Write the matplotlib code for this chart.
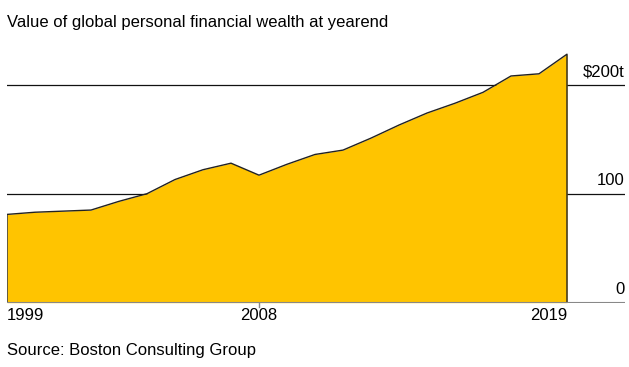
import matplotlib.pyplot as plt

years = list(range(1999, 2020))
wealth = [81, 83, 84, 85, 93, 100, 113, 122, 128, 117, 127, 136, 140,
          151, 163, 174, 183, 193, 208, 210, 228]
grid_values = [100, 200]
grid_labels = ["100", "$200t"]
x_ticks = [1999, 2008, 2019]

plt.rcParams['font.family'] = ['Liberation Sans', 'DejaVu Sans']

W, H = 629, 367
fig = plt.figure(figsize=(W / 100, H / 100), dpi=100)
# axes from x=7 to 625 px, y from 302.7 (value 0) to 44 px
ax = fig.add_axes([7 / W, (H - 302.7) / H, 618 / W, (302.7 - 44) / H])
ax.set_xlim(1999, 1999 + 618 / 28)
ax.set_ylim(0, (302.7 - 44) / 1.09)
ax.axis('off')

yellow = '#FFC400'
ax.fill_between(years, 0, wealth, color=yellow, lw=0, zorder=2)
ax.plot([years[0]] + years + [years[-1]], [0] + wealth + [0],
        color='#222222', lw=1, zorder=3)

for v, lab in zip(grid_values, grid_labels):
    ax.axhline(v, color='#111111', lw=0.9, zorder=1)
    ax.text(1, v + 5, lab, transform=ax.get_yaxis_transform(),
            ha='right', va='bottom', fontsize=12)
ax.axhline(0, color='#888888', lw=1.5, zorder=4)
ax.text(1, 5, "0", transform=ax.get_yaxis_transform(),
        ha='right', va='bottom', fontsize=12)

# tick at 2008
ax.plot([2008, 2008], [0, -4], color='#888888', lw=1, clip_on=False)
for yr, ha in zip(x_ticks, ['left', 'center', 'right']):
    ax.text(yr, -5, str(yr), ha=ha, va='top', fontsize=12)

fig.text(7 / W, 1 - 22 / H, "Value of global personal financial wealth at yearend",
         ha='left', va='center', fontsize=12)
fig.text(7 / W, 1 - 351 / H, "Source: Boston Consulting Group",
         ha='left', va='center', fontsize=12)

fig.savefig('out.png', dpi=100)
